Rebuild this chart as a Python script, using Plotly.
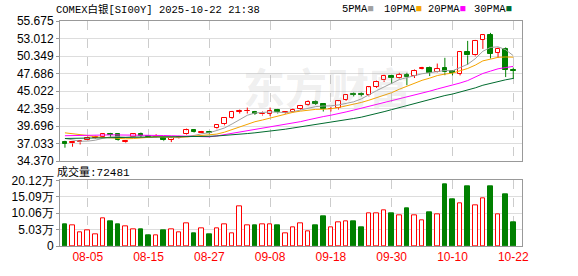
import plotly.graph_objects as go
import pandas as pd

# ---------------- data ----------------
dates = [d.strftime("%Y-%m-%d") for d in pd.bdate_range("2025-07-31", "2025-10-22")]

opens = [37.27, 37.04, 37.22, 37.52, 37.86, 37.96, 38.44, 38.44, 37.20, 38.10,
         38.44, 38.15, 38.05, 37.90, 37.60, 37.90, 38.50, 39.10, 38.70, 38.75,
         39.33, 39.97, 40.93, 41.90, 41.95, 41.90, 41.45, 41.60, 42.10, 41.65,
         41.80, 42.25, 42.89, 43.38, 43.00, 42.25, 42.40, 43.63, 44.55, 44.55,
         44.36, 45.68, 46.64, 47.28, 46.99, 47.47, 47.30, 48.35, 48.55, 47.87,
         48.50, 48.00, 47.67, 50.94, 50.45, 52.79, 53.52, 50.80, 51.43, 48.20]
highs = [37.45, 37.35, 37.50, 38.10, 38.20, 38.51, 38.65, 38.50, 37.55, 38.51,
         38.70, 38.20, 38.45, 38.10, 37.90, 38.20, 39.30, 39.20, 38.95, 38.85,
         40.00, 41.00, 42.00, 42.20, 42.50, 42.00, 41.90, 42.50, 42.30, 41.90,
         42.35, 42.90, 43.60, 43.60, 43.20, 42.60, 43.60, 44.55, 44.80, 44.80,
         45.70, 46.60, 47.50, 47.50, 47.80, 47.80, 48.30, 48.70, 48.75, 49.20,
         50.07, 48.20, 51.10, 52.65, 52.80, 53.63, 53.87, 51.65, 51.65, 48.60]
lows = [36.40, 36.54, 36.89, 37.45, 37.80, 37.87, 38.00, 37.45, 37.10, 38.00,
        37.90, 37.95, 37.95, 37.40, 37.25, 37.80, 38.40, 38.70, 38.60, 38.50,
        39.20, 39.80, 40.80, 41.60, 41.60, 41.40, 41.30, 41.20, 41.60, 41.55,
        41.70, 42.15, 42.80, 42.90, 41.90, 41.90, 42.20, 43.50, 44.20, 44.20,
        44.20, 45.50, 46.40, 46.10, 46.90, 45.90, 47.00, 48.30, 47.30, 47.80,
        47.43, 47.40, 47.40, 49.00, 50.30, 51.43, 49.97, 50.07, 47.14, 46.85]
closes = [36.98, 37.27, 37.42, 37.91, 38.10, 38.44, 38.35, 37.55, 37.45, 38.44,
          38.20, 38.05, 38.10, 37.52, 37.85, 38.10, 39.05, 38.80, 38.80, 38.60,
          39.86, 40.93, 41.87, 41.95, 42.05, 41.60, 41.60, 42.00, 41.77, 41.80,
          42.20, 42.79, 43.38, 43.10, 42.25, 42.30, 43.47, 44.44, 44.45, 44.45,
          45.57, 46.45, 47.28, 46.99, 47.52, 47.08, 48.06, 48.60, 47.77, 48.40,
          47.87, 47.80, 50.94, 50.45, 52.65, 53.52, 50.70, 51.43, 48.25, 48.10]
volumes = [66700, 62700, 41800, 47800, 36800, 83700, 75700, 66700, 59800, 50800,
           51800, 33900, 33900, 48800, 50800, 42800, 68700, 39800, 53800, 36800,
           53800, 66700, 39800, 122500, 62700, 63700, 66700, 66700, 63700, 39800,
           56800, 68700, 44800, 63700, 90600, 56800, 71700, 74700, 75700, 57800,
           98600, 101600, 110600, 99600, 93600, 114500, 93600, 77700, 102600, 96600,
           189200, 144400, 131500, 183300, 123500, 147400, 183300, 95600, 159400, 72481]

ma5 = [37.80, 37.55, 37.38, 37.40, 37.54, 37.83, 38.04, 38.07, 37.98, 38.05,
       38.00, 37.94, 38.05, 38.06, 37.94, 37.92, 38.12, 38.26, 38.52, 38.67,
       39.02, 39.40, 40.01, 40.64, 41.33, 41.68, 41.81, 41.84, 41.80, 41.75,
       41.87, 42.11, 42.39, 42.65, 42.74, 42.76, 42.90, 43.11, 43.38, 43.82,
       44.48, 45.07, 45.64, 46.15, 46.76, 47.06, 47.39, 47.65, 47.81, 47.98,
       48.14, 48.09, 48.56, 49.09, 49.94, 51.07, 51.65, 51.75, 51.31, 50.40]
ma10 = [38.66, 38.55, 38.42, 38.25, 38.05, 37.95, 37.90, 37.82, 37.75, 37.79,
        37.91, 37.99, 38.06, 38.02, 38.00, 37.96, 38.03, 38.16, 38.29, 38.31,
        38.47, 38.76, 39.14, 39.58, 40.00, 40.35, 40.61, 40.93, 41.22, 41.54,
        41.78, 41.96, 42.11, 42.23, 42.25, 42.32, 42.51, 42.75, 43.02, 43.28,
        43.62, 43.99, 44.38, 44.77, 45.29, 45.77, 46.23, 46.65, 46.98, 47.37,
        47.60, 47.74, 48.10, 48.45, 48.96, 49.61, 49.87, 50.15, 50.20, 50.17]
ma20 = [38.22, 38.22, 38.23, 38.25, 38.28, 38.32, 38.35, 38.35, 38.33, 38.33,
        38.32, 38.30, 38.28, 38.25, 38.22, 38.18, 38.15, 38.12, 38.08, 38.05,
        38.19, 38.38, 38.60, 38.80, 39.00, 39.16, 39.32, 39.54, 39.76, 39.93,
        40.13, 40.36, 40.63, 40.91, 41.13, 41.34, 41.56, 41.84, 42.12, 42.41,
        42.70, 42.97, 43.25, 43.50, 43.77, 44.04, 44.37, 44.70, 45.00, 45.33,
        45.61, 45.86, 46.24, 46.61, 47.13, 47.69, 48.05, 48.40, 48.59, 48.77]
ma30 = [37.80, 37.83, 37.85, 37.87, 37.90, 37.93, 37.96, 37.97, 37.98, 38.00,
        38.01, 38.02, 38.03, 38.03, 38.03, 38.04, 38.06, 38.08, 38.10, 38.13,
        38.18, 38.25, 38.34, 38.44, 38.55, 38.66, 38.78, 38.92, 39.06, 39.21,
        39.39, 39.57, 39.77, 39.94, 40.08, 40.21, 40.38, 40.61, 40.84, 41.04,
        41.29, 41.57, 41.88, 42.19, 42.51, 42.81, 43.11, 43.44, 43.74, 44.07,
        44.33, 44.56, 44.86, 45.15, 45.50, 45.90, 46.20, 46.52, 46.73, 46.94]

price_ticks = ["34.370", "37.033", "39.696", "42.359", "45.022", "47.686", "50.349", "53.012", "55.675"]
vol_tick_vals = [0, 50300, 100600, 150900, 201200]
vol_tick_text = ["0", "5.03万", "10.06万", "15.09万", "20.12万"]
x_tick_dates = ["2025-08-05", "2025-08-15", "2025-08-27", "2025-09-08",
                "2025-09-18", "2025-09-30", "2025-10-10", "2025-10-22"]
x_tick_text = ["08-05", "08-15", "08-27", "09-08", "09-18", "09-30", "10-10", "10-22"]
title_text = "COMEX白银[SI00Y] 2025-10-22 21:38"
ma_names = ["5PMA", "10PMA", "20PMA", "30PMA"]

# ---------------- styles ----------------
RED = "#ff0000"
GREEN = "#008000"
MA_COLORS = ["#a0a0a0", "#f5a400", "#ff00ff", "#006b2e"]
LAT = "Liberation Sans, Arial, sans-serif"
CJK = "Liberation Mono, Noto Sans CJK SC, monospace"

n = len(dates)
up = [closes[i] >= opens[i] for i in range(n)]

fig = go.Figure()

# wicks (split so they don't cross the hollow bodies)
for is_up, col in [(True, RED), (False, GREEN)]:
    wx, wy = [], []
    for i in range(n):
        if up[i] != is_up:
            continue
        top = max(opens[i], closes[i])
        bot = min(opens[i], closes[i])
        wx += [dates[i], dates[i], None, dates[i], dates[i], None]
        wy += [highs[i], top, None, bot, lows[i], None]
    fig.add_trace(go.Scatter(x=wx, y=wy, mode="lines", line=dict(color=col, width=1),
                             hoverinfo="skip", showlegend=False, xaxis="x", yaxis="y"))

# candle bodies
for is_up, fill, col in [(True, "#ffffff", RED), (False, GREEN, GREEN)]:
    bx, bb, bh = [], [], []
    for i in range(n):
        if up[i] != is_up:
            continue
        bx.append(dates[i])
        bb.append(min(opens[i], closes[i]))
        bh.append(max(abs(closes[i] - opens[i]), 0.02))
    fig.add_trace(go.Bar(x=bx, y=bh, base=bb, width=0.62,
                         marker=dict(color=fill, line=dict(color=col, width=1)),
                         showlegend=False, xaxis="x", yaxis="y"))

# moving averages
for name, vals, col in zip(ma_names, [ma5, ma10, ma20, ma30], MA_COLORS):
    fig.add_trace(go.Scatter(x=dates, y=vals, mode="lines", name=name,
                             line=dict(color=col, width=1), showlegend=False,
                             xaxis="x", yaxis="y"))

# volume
for is_up, fill, col in [(True, "#ffffff", RED), (False, GREEN, GREEN)]:
    vx = [dates[i] for i in range(n) if up[i] == is_up]
    vy = [volumes[i] for i in range(n) if up[i] == is_up]
    fig.add_trace(go.Bar(x=vx, y=vy, width=0.62,
                         marker=dict(color=fill, line=dict(color=col, width=1)),
                         showlegend=False, xaxis="x2", yaxis="y2"))

L, R, T, B = 55, 56, 21, 22
W, H = 578, 276
ph = H - T - B
pw = W - L - R
def py(pix):
    return (H - B - pix) / ph
def px(pix):
    return (pix - L) / pw

xcommon = dict(type="category", categoryorder="array", categoryarray=dates,
               range=[-0.65, 60.15], tickvals=x_tick_dates, tickangle=0,
               showgrid=True, gridcolor="#cccccc", griddash="dash", gridwidth=1,
               showline=True, mirror=True, linecolor="#999999", linewidth=1,
               zeroline=False, fixedrange=True)

fig.update_layout(
    width=W, height=H, margin=dict(l=L, r=R, t=T, b=B),
    paper_bgcolor="white", plot_bgcolor="white", barmode="overlay", bargap=0,
    showlegend=False,
    xaxis=dict(**xcommon, anchor="y", showticklabels=False, ticks=""),
    xaxis2=dict(**xcommon, anchor="y2", ticktext=x_tick_text,
                showticklabels=True, ticks="",
                tickfont=dict(family=LAT, size=12, color=RED)),
    yaxis=dict(domain=[py(166), 1.0], range=[float(price_ticks[0]), float(price_ticks[-1])],
               tickvals=[float(t) for t in price_ticks], ticktext=price_ticks,
               ticks="outside", ticklen=3, tickcolor="#999999",
               showgrid=True, gridcolor="#dddddd", showline=True, mirror=True,
               linecolor="#999999", zeroline=False,
               tickfont=dict(family=LAT, size=12, color="#000000")),
    yaxis2=dict(domain=[0, py(186)], range=[0, vol_tick_vals[-1]],
                tickvals=vol_tick_vals, ticktext=vol_tick_text,
                ticks="outside", ticklen=3, tickcolor="#999999",
                showgrid=True, gridcolor="#dddddd", showline=True, mirror=True,
                linecolor="#999999", zeroline=False,
                tickfont=dict(family=LAT, size=12, color="#000000")),
)

ann = []
ann.append(dict(text=title_text, x=px(56), y=py(9), xref="paper", yref="paper",
                xanchor="left", yanchor="middle", align="left", showarrow=False,
                xshift=-7, font=dict(family=CJK, size=10.5, color="#000000")))
leg_x = [338, 380, 425, 471]
for name, col, lx in zip(ma_names, MA_COLORS, leg_x):
    ann.append(dict(text=f"{name}<span style='color:{col}'>■</span>", x=px(lx), y=py(9),
                    xref="paper", yref="paper", xanchor="left", yanchor="middle",
                    align="left", showarrow=False,
                    font=dict(family=CJK, size=10.5, color="#000000")))
ann.append(dict(text=f"成交量:{volumes[-1]}", x=px(56), y=py(177), xref="paper", yref="paper",
                xanchor="left", yanchor="middle", align="left", showarrow=False,
                xshift=-6, font=dict(family=CJK, size=11, color="#000000")))
ann.append(dict(text="<b>东方财富</b>", x=px(325), y=py(88), xref="paper", yref="paper",
                xanchor="center", yanchor="middle", showarrow=False,
                font=dict(family="Noto Sans CJK SC", size=42, color="rgba(160,160,160,0.18)")))
fig.update_layout(annotations=ann)

fig.write_html("out.html", include_plotlyjs=True, config={"displayModeBar": False})
